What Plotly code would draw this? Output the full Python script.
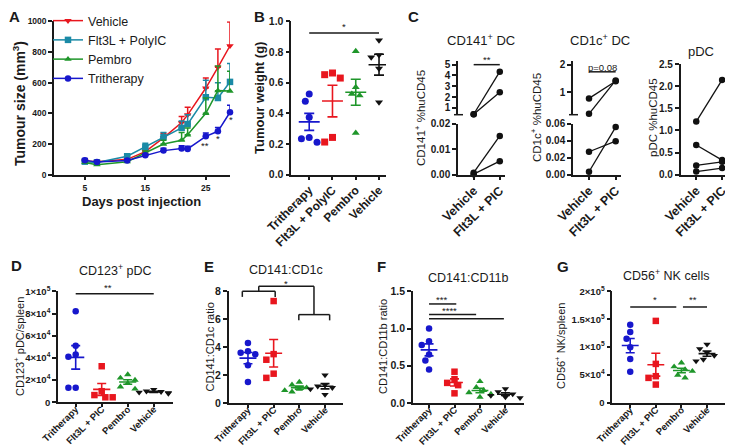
import numpy as np
import plotly.graph_objects as go

W, H = 733, 448
FONT = "Liberation Sans, Arial, sans-serif"
INK = "#1a1a1a"

# ---------------- data ----------------
# Panel A: tumour growth (mean, upward SEM)
days = [5, 7, 12, 15, 18, 21, 22, 25, 27, 29]
veh_mean = [90, 85, 100, 150, 240, 340, 390, 565, 700, 840]
veh_sem = [10, 10, 10, 15, 30, 40, 50, 65, 120, 155]
flt_mean = [85, 80, 120, 180, 245, 305, 330, 505, 500, 605]
flt_sem = [10, 10, 15, 25, 30, 45, 60, 110, 100, 120]
pem_mean = [80, 65, 85, 140, 200, 225, 260, 400, 548, 545]
pem_sem = [10, 8, 10, 15, 25, 50, 45, 100, 160, 130]
tri_mean = [95, 82, 92, 127, 157, 170, 168, 250, 283, 407]
tri_sem = [10, 8, 8, 8, 15, 18, 18, 22, 25, 45]

groups_b = ["Tritherapy", "Flt3L + PolyIC", "Pembro", "Vehicle"]
groups_row2 = ["Tritherapy", "Flt3L + PIC", "Pembro", "Vehicle"]
groups_c = ["Vehicle", "Flt3L + PIC"]

# Panel B: tumour weight (g)
B_tri = [0.478, 0.526, 0.374, 0.243, 0.235, 0.211]
B_flt = [0.663, 0.652, 0.630, 0.243, 0.213]
B_pem = [0.804, 0.570, 0.526, 0.517, 0.272]
B_veh = [0.876, 0.780, 0.765, 0.692, 0.472]

# Panel C: paired Vehicle -> Flt3L + PIC
C1_top_veh = [0.42, 0.42]
C1_top_flt = [4.35, 2.45]
C1_bot_veh = [0.0008, 0.0002]
C1_bot_flt = [0.0152, 0.0053]
C2_top_veh = [0.78, 0.22]
C2_top_flt = [1.40, 1.43]
C2_bot_veh = [0.027, 0.0035]
C2_bot_flt = [0.0395, 0.056]
C3_veh = [1.20, 0.67, 0.21, 0.07]
C3_flt = [2.14, 0.33, 0.29, 0.15]

# Panel D: CD123+ pDC / spleen
D_tri = [82000, 51000, 43000, 41000, 13000, 13000]
D_flt = [32500, 10000, 6500, 4500, 4500]
D_pem = [25000, 22000, 20000, 17000, 14000, 12000]
D_veh = [11500, 10000, 9500, 9000, 8500, 8000]

# Panel E: CD141:CD1c ratio
E_tri = [4.3, 3.7, 3.6, 3.5, 2.7, 1.5]
E_flt = [7.3, 3.5, 3.1, 2.1, 1.8]
E_pem = [1.5, 1.3, 1.1, 1.0, 0.9, 0.8]
E_veh = [2.0, 1.3, 1.2, 1.1, 1.0, 0.6]

# Panel F: CD141:CD11b ratio
F_tri = [1.0, 0.83, 0.78, 0.65, 0.57, 0.45]
F_flt = [0.42, 0.32, 0.27, 0.24, 0.13]
F_pem = [0.29, 0.21, 0.17, 0.14, 0.12, 0.08]
F_veh = [0.19, 0.15, 0.12, 0.10, 0.08, 0.07]

# Panel G: CD56+ NK / spleen
G_tri = [140000, 127000, 115000, 100000, 79000, 56000]
G_flt = [147000, 70000, 48000, 45000, 33000]
G_pem = [72000, 65000, 60000, 57000, 50000, 45000]
G_veh = [105000, 97000, 90000, 85000, 78000, 75000]

# ---------------- styles ----------------
RED = "#e8161e"
TEAL = "#1a8aa6"
GREEN = "#1f962a"
BLUE = "#1717cc"
BLACK = "#111111"
COL4 = [BLUE, RED, GREEN, BLACK]
SYM4 = ["circle", "square", "triangle-up", "triangle-down"]

# panel geometry in pixels: x (left,right), y (top,bottom)
P = {
    1: dict(x=(46, 222), y=(13.3, 166.7), xr=[-0.1, 29], yr=[0, 1000]),
    2: dict(x=(283.3, 378), y=(13.3, 166.7), xr=[-0.77, 3.3], yr=[0, 1.0]),
    3: dict(x=(450, 497), y=(53.3, 106.7), xr=[-0.6, 1.2], yr=[0.38, 5.31]),
    4: dict(x=(450, 497), y=(115.7, 166.7), xr=[-0.6, 1.2], yr=[0, 0.02]),
    5: dict(x=(565, 613), y=(53.3, 106.7), xr=[-0.6, 1.2], yr=[0.19, 2.12]),
    6: dict(x=(565, 613), y=(115.7, 166.7), xr=[-0.6, 1.2], yr=[0, 0.06]),
    7: dict(x=(672.7, 719.3), y=(56, 166.7), xr=[-0.6, 1.2], yr=[0, 2.5]),
    8: dict(x=(50, 165), y=(283.3, 394.3), xr=[-0.68, 3.74], yr=[0, 1e5]),
    9: dict(x=(220.7, 335), y=(283.3, 395), xr=[-0.75, 3.7], yr=[0, 8]),
    10: dict(x=(405, 516), y=(283.3, 395), xr=[-0.63, 3.73], yr=[0, 1.5]),
    11: dict(x=(604.3, 717.7), y=(283.3, 395), xr=[-0.7, 3.73], yr=[0, 2e5]),
}


def xr_(i):
    return "x" if i == 1 else f"x{i}"


def yr_(i):
    return "y" if i == 1 else f"y{i}"


def ppu(i):
    p = P[i]
    px = (p["x"][1] - p["x"][0]) / (p["xr"][1] - p["xr"][0])
    py = (p["y"][1] - p["y"][0]) / (p["yr"][1] - p["yr"][0])
    return px, py


def to_paper(i, x, y):
    """position of an annotation given in a panel's value space -> paper coords"""
    p = P[i]
    px, py = ppu(i)
    xpx = p["x"][0] + (x - p["xr"][0]) * px
    ypx = p["y"][1] - (y - p["yr"][0]) * py
    return xpx / W, 1 - ypx / H


def swarm(vals, i, d):
    """simple deterministic beeswarm offsets (data units)"""
    px, py = ppu(i)
    vals = np.asarray(vals, float)
    order = np.argsort(-vals)
    placed = []
    offs = np.zeros(len(vals))
    cands = [0, -0.5, 0.5, -1, 1, -1.5, 1.5, -2, 2]
    for k in order:
        yk = vals[k] * py
        xc = 0
        for c in cands:
            xc = c * d
            ok = all((xc - xo) ** 2 + (yk - yo) ** 2 >= (0.95 * d) ** 2 for xo, yo in placed)
            if ok:
                break
        placed.append((xc, yk))
        offs[k] = xc / px
    return offs


fig = go.Figure()

# ---- Panel A ----
for name, m, s, col, sym in [
    ("Vehicle", veh_mean, veh_sem, RED, "triangle-down"),
    ("Flt3L + PolyIC", flt_mean, flt_sem, TEAL, "square"),
    ("Pembro", pem_mean, pem_sem, GREEN, "triangle-up"),
    ("Tritherapy", tri_mean, tri_sem, BLUE, "circle"),
]:
    fig.add_trace(go.Scatter(
        x=days, y=m, name=name, mode="lines+markers",
        line=dict(color=col, width=1.5),
        marker=dict(symbol=sym, size=6.5, color=col),
        error_y=dict(type="data", symmetric=False, array=s, arrayminus=[0] * len(s),
                     color=col, thickness=1.5, width=3),
        xaxis="x", yaxis="y", cliponaxis=False,
    ))


def dot_panel(i, groups_vals, msize, mean_hw, cap):
    for gi, vals in enumerate(groups_vals):
        offs = swarm(vals, i, msize + 0.8)
        fig.add_trace(go.Scatter(
            x=gi + offs, y=vals, mode="markers", showlegend=False,
            marker=dict(symbol=SYM4[gi], color=COL4[gi], size=msize),
            xaxis=xr_(i), yaxis=yr_(i), cliponaxis=False))
        mu = float(np.mean(vals))
        se = float(np.std(vals, ddof=1) / np.sqrt(len(vals)))
        fig.add_trace(go.Scatter(
            x=[gi - mean_hw, gi + mean_hw], y=[mu, mu], mode="lines", showlegend=False,
            line=dict(color=COL4[gi], width=1.6), xaxis=xr_(i), yaxis=yr_(i), cliponaxis=False))
        fig.add_trace(go.Scatter(
            x=[gi], y=[mu], mode="markers", showlegend=False,
            marker=dict(size=1, color="rgba(0,0,0,0)"),
            error_y=dict(type="data", array=[se], color=COL4[gi], thickness=1.6, width=cap),
            xaxis=xr_(i), yaxis=yr_(i), cliponaxis=False))


dot_panel(2, [B_tri, B_flt, B_pem, B_veh], 7, 0.45, 5)
dot_panel(8, [D_tri, D_flt, D_pem, D_veh], 6.5, 0.33, 4.5)
dot_panel(9, [E_tri, E_flt, E_pem, E_veh], 6.5, 0.33, 4.5)
dot_panel(10, [F_tri, F_flt, F_pem, F_veh], 6.5, 0.33, 4.5)
dot_panel(11, [G_tri, G_flt, G_pem, G_veh], 6.5, 0.33, 4.5)


def paired(i, veh, flt):
    xs, ys = [], []
    for a, b in zip(veh, flt):
        xs += [0, 1, None]
        ys += [a, b, None]
    fig.add_trace(go.Scatter(
        x=xs, y=ys, mode="lines+markers", showlegend=False,
        line=dict(color=BLACK, width=1.3), marker=dict(color=BLACK, size=6.5),
        xaxis=xr_(i), yaxis=yr_(i), cliponaxis=False))


paired(3, C1_top_veh, C1_top_flt)
paired(4, C1_bot_veh, C1_bot_flt)
paired(5, C2_top_veh, C2_top_flt)
paired(6, C2_bot_veh, C2_bot_flt)
paired(7, C3_veh, C3_flt)

# ---------------- axes ----------------
def base_axis(i, kind, size):
    p = P[i]
    dom = [p["x"][0] / W, p["x"][1] / W] if kind == "x" else [1 - p["y"][1] / H, 1 - p["y"][0] / H]
    return dict(
        domain=dom, range=p["xr"] if kind == "x" else p["yr"],
        anchor=yr_(i) if kind == "x" else xr_(i),
        automargin=False,
        showline=True, linecolor=INK, linewidth=1.5,
        ticks="outside", ticklen=4, tickwidth=1.5, tickcolor=INK,
        showgrid=False, zeroline=False, fixedrange=True,
        tickfont=dict(family=FONT, size=size, color=INK, weight="bold"),
    )


axes = {}
# A
axes["xaxis"] = {**base_axis(1, "x", 8.5), "tickvals": [5, 15, 25]}
axes["yaxis"] = {**base_axis(1, "y", 8.5), "tickvals": [0, 200, 400, 600, 800, 1000]}
# B
axes["xaxis2"] = {**base_axis(2, "x", 12), "tickvals": [0, 1, 2, 3], "ticktext": groups_b,
                  "tickangle": -45, "ticklabelstandoff": -2}
axes["yaxis2"] = {**base_axis(2, "y", 10.5), "dtick": 0.2, "tickformat": ".1f"}
# C
for i, topv in [(3, [1, 2, 3, 4, 5]), (5, [1, 2])]:
    axes[f"xaxis{i}"] = {**base_axis(i, "x", 12), "visible": False}
    axes[f"yaxis{i}"] = {**base_axis(i, "y", 10), "tickvals": topv}
for i in (4, 6, 7):
    axes[f"xaxis{i}"] = {**base_axis(i, "x", 12.5), "tickvals": [0, 1], "ticktext": groups_c,
                         "tickangle": -45, "ticklabelstandoff": -2}
axes["yaxis4"] = {**base_axis(4, "y", 10), "tickvals": [0, 0.01, 0.02], "tickformat": ".2f"}
axes["yaxis6"] = {**base_axis(6, "y", 10), "tickvals": [0, 0.02, 0.04, 0.06], "tickformat": ".2f"}
axes["yaxis7"] = {**base_axis(7, "y", 10), "dtick": 0.5, "tickformat": ".1f"}
# Row 2
for i in (8, 9, 10, 11):
    axes[f"xaxis{i}"] = {**base_axis(i, "x", 9.5), "tickvals": [0, 1, 2, 3],
                         "ticktext": groups_row2, "tickangle": -45, "ticklen": 3,
                         "ticklabelstandoff": -7}
axes["yaxis8"] = {**base_axis(8, "y", 9.5), "tickvals": [0, 2e4, 4e4, 6e4, 8e4, 1e5],
                  "ticktext": ["0", "2×10<sup>4</sup>", "4×10<sup>4</sup>", "6×10<sup>4</sup>",
                               "8×10<sup>4</sup>", "1×10<sup>5</sup>"]}
axes["yaxis9"] = {**base_axis(9, "y", 10.5), "dtick": 2}
axes["yaxis10"] = {**base_axis(10, "y", 10.5), "dtick": 0.5, "tickformat": ".1f"}
axes["yaxis11"] = {**base_axis(11, "y", 9.5), "tickvals": [0, 5e4, 1e5, 1.5e5, 2e5],
                   "ticktext": ["0", "5×10<sup>4</sup>", "1×10<sup>5</sup>", "1.5×10<sup>5</sup>",
                                "2×10<sup>5</sup>"]}

# ---------------- annotations ----------------
ann = []


def txt_px(x, y, s, size, bold=False, angle=0):
    ann.append(dict(x=x / W, y=1 - y / H, xref="paper", yref="paper", text=s, showarrow=False,
                    textangle=angle, xanchor="center", yanchor="middle",
                    font=dict(family=FONT, size=size, color=INK,
                              weight="bold" if bold else "normal")))


def txt_val(i, x, y, s, size):
    px, py = to_paper(i, x, y)
    ann.append(dict(x=px, y=py, xref="paper", yref="paper", text=s, showarrow=False,
                    xanchor="center", yanchor="middle",
                    font=dict(family=FONT, size=size, color=INK)))


for L, x, y in [("A", 6, 8), ("B", 251, 8), ("C", 405, 8), ("D", 8, 257),
                ("E", 201, 258), ("F", 373, 258), ("G", 555, 258)]:
    txt_px(x, y, L, 15, bold=True)

txt_px(11, 96, "Tumour size (mm<sup>3</sup>)", 14, bold=True, angle=-90)
txt_px(133, 193, "Days post injection", 13, bold=True)
txt_px(251, 90, "Tumour weight (g)", 13, bold=True, angle=-90)

txt_px(473, 32, "CD141<sup>+</sup> DC", 13)
txt_px(592, 32, "CD1c<sup>+</sup> DC", 13)
txt_px(693, 43, "pDC", 13)
txt_px(412, 110, "CD141<sup>+</sup> %huCD45", 11.5, angle=-90)
txt_px(528, 110, "CD1c<sup>+</sup> %huCD45", 11.5, angle=-90)
txt_px(645, 110, "pDC %huCD45", 11.5, angle=-90)

txt_px(107, 262, "CD123<sup>+</sup> pDC", 12.5)
txt_px(278, 262, "CD141:CD1c", 12.5)
txt_px(460, 270, "CD141:CD11b", 12.5)
txt_px(658, 267, "CD56<sup>+</sup> NK cells", 12.5)
txt_px(11, 339, "CD123<sup>+</sup> pDC/spleen", 11, angle=-90)
txt_px(201.5, 339, "CD141:CD1c ratio", 11, angle=-90)
txt_px(375, 339, "CD141:CD11b ratio", 11, angle=-90)
txt_px(552, 338, "CD56<sup>+</sup> NK/spleen", 11, angle=-90)

# significance stars (positions in each panel's value space)
for i, x, y, s in [
    (1, 24.9, 192, "**"), (1, 27.0, 233, "*"), (1, 29.1, 359, "*"),
    (2, 1.5, 0.965, "*"),
    (3, 0.5, 5.46, "**"),
    (8, 1.25, 103000, "**"),
    (9, 1.49, 8.56, "*"),
    (10, 0.5, 1.39, "***"), (10, 0.8, 1.245, "****"),
    (11, 0.95, 185000, "*"), (11, 2.44, 185000, "**"),
]:
    txt_val(i, x, y, s, 9.5)
txt_val(5, 0.5, 1.89, "p=0.08", 9.5)

# ---------------- shapes (significance bars, axis breaks) ----------------
shapes = []


def seg(i, x0, y0, x1, y1):
    a0, b0 = to_paper(i, x0, y0)
    a1, b1 = to_paper(i, x1, y1)
    shapes.append(dict(type="line", xref="paper", yref="paper", x0=a0, y0=b0, x1=a1, y1=b1,
                       line=dict(color=INK, width=1.5)))


seg(2, 0, 0.924, 3, 0.924)
seg(3, 0, 5.0, 1, 5.0)
seg(5, 0, 1.74, 1, 1.74)
seg(8, 0, 97800, 3, 97800)
# E brackets
seg(9, -0.22, 8.0, 1.06, 8.0); seg(9, -0.22, 8.0, -0.22, 7.6); seg(9, 1.06, 8.0, 1.06, 7.6)
seg(9, 0.42, 8.0, 0.42, 8.36)
seg(9, 1.98, 6.33, 3.18, 6.33); seg(9, 1.98, 6.33, 1.98, 5.92); seg(9, 3.18, 6.33, 3.18, 5.92)
seg(9, 2.57, 6.33, 2.57, 8.36)
seg(9, 0.42, 8.36, 2.57, 8.36)
# F
seg(10, 0, 1.33, 1.07, 1.33)
seg(10, 0, 1.19, 1.85, 1.19)
seg(10, 0, 1.13, 2.94, 1.13)
# G
seg(11, 0, 171900, 1.8, 171900)
seg(11, 2.06, 171900, 3.0, 171900)

# axis break marks at bottom of top segments
for i in (3, 5):
    xpx = P[i]["x"][0]
    ypx = P[i]["y"][1]
    shapes.append(dict(type="line", xref="paper", yref="paper",
                       x0=(xpx - 4) / W, x1=(xpx + 5) / W, y0=1 - ypx / H, y1=1 - ypx / H,
                       line=dict(color=INK, width=1.5)))

fig.update_layout(
    template="none",
    width=W, height=H, margin=dict(l=0, r=0, t=0, b=0, pad=0, autoexpand=False),
    paper_bgcolor="white", plot_bgcolor="white",
    font=dict(family=FONT, color=INK),
    showlegend=True,
    legend=dict(x=40 / W, y=1 + 2 / H, xanchor="left", yanchor="top",
                bgcolor="rgba(0,0,0,0)", font=dict(family=FONT, size=12.5, color=INK),
                itemwidth=30, tracegroupgap=0),
    annotations=ann, shapes=shapes,
    **axes,
)

fig.write_html("out.html")
